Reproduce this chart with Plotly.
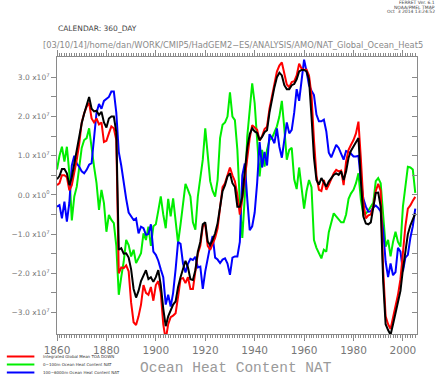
import numpy as np
import plotly.graph_objects as go

years = list(range(1860, 2006))

# values in units of 1e7
toa_down = [
    0.25,
    0.30, 0.50, 0.50, 0.45, 0.12, 0.25, 0.55, 0.90, 1.30, 1.85,
    2.08, 2.25, 2.35, 1.95, 1.85, 1.95, 1.80, 1.85, 1.35, 1.38,
    1.57, 1.75, 1.70, 1.40, -2.00, -1.85, -1.87, -1.80, -1.95, -2.75,
    -3.25, -3.32, -3.10, -2.80, -2.30, -2.50, -2.55, -2.35, -2.70, -2.30,
    -2.20, -2.50, -3.30, -3.70, -3.30, -3.12, -3.08, -3.02, -2.60, -2.15,
    -2.12, -2.25, -2.10, -2.40, -2.40, -1.95, -1.50, -1.30, -0.80, -0.75,
    -1.30, -1.40, -1.25, -1.10, -0.85, -0.35, 0.20, 0.30, 0.50, 0.70,
    0.50, 0.35, 0.00, -0.50, -0.10, 0.40, 1.00, 1.45, 1.78, 1.72,
    1.66, 1.38, 1.50, 1.68, 1.74, 2.20, 2.55, 2.85, 3.15, 3.30,
    3.38, 3.10, 2.82, 2.75, 2.88, 2.90, 3.05, 3.35, 3.22, 3.19,
    3.20, 3.05, 2.55, 1.40, 0.50, 0.13, 0.10, 0.38, 0.13, 0.26,
    0.43, 0.55, 0.64, 0.60, 0.62, 0.25, 0.85, 1.15, 1.28, 1.40,
    1.57, 1.87, 0.90, -0.20, -0.60, -0.52, -0.50, -0.30, 0.10, 0.28,
    0.10, -1.90, -3.10, -3.30, -3.42, -3.15, -2.88, -2.55, -2.15, -1.50,
    -0.80, -0.35, -0.27, -0.15, -0.05,
]

total = [
    0.40,
    0.48, 0.66, 0.66, 0.55, 0.25, 0.45, 0.80, 1.15, 1.50, 1.83,
    2.08, 2.30, 2.50, 2.20, 2.13, 2.15, 2.04, 2.12, 1.85, 1.72,
    1.95, 2.00, 2.00, 1.60, -1.40, -1.36, -1.50, -1.49, -1.60, -1.90,
    -2.40, -2.62, -2.45, -2.20, -2.08, -1.92, -2.15, -2.10, -2.22, -2.10,
    -1.92, -2.30, -2.90, -3.35, -3.10, -2.95, -2.80, -2.72, -2.35, -2.10,
    -1.90, -1.68, -1.85, -2.15, -2.17, -1.92, -1.45, -1.20, -0.75, -0.70,
    -1.19, -1.28, -1.15, -0.98, -0.72, -0.30, 0.10, 0.25, 0.47, 0.55,
    0.30, 0.20, -0.30, -0.30, -0.05, 0.60, 1.20, 1.55, 1.70, 1.62,
    1.58, 1.40, 1.48, 1.60, 1.65, 2.10, 2.45, 2.75, 3.00, 3.12,
    3.05, 2.80, 2.70, 2.70, 2.80, 2.83, 2.95, 3.15, 3.19, 3.19,
    3.15, 2.95, 2.00, 0.95, 0.38, 0.26, 0.43, 0.30, 0.21, 0.34,
    0.43, 0.51, 0.55, 0.51, 0.60, 0.38, 0.60, 0.95, 1.13, 1.23,
    1.32, 1.45, 0.35, -0.55, -0.73, -0.75, -0.70, -0.30, 0.05, 0.06,
    -0.30, -2.20, -3.30, -3.45, -3.57, -3.30, -3.03, -2.80, -2.45, -1.90,
    -1.40, -1.00, -0.78, -0.62, -0.47,
]

deep_100_6000 = [
    -0.30,
    -0.26, -0.60, -0.17, -0.68, -0.20, 0.75, 1.00, 0.80, 0.72, 0.60,
    0.55, 0.64, 0.77, 0.81, 1.45, 2.10, 2.32, 2.20, 2.40, 2.45,
    2.50, 2.64, 2.64, 2.10, 1.10, 0.75, 0.30, -0.10, -0.45, -0.55,
    -0.64, -0.60, -0.98, -0.81, -0.85, -1.02, -1.00, -0.75, -1.45, -1.53,
    -1.68, -1.90, -2.10, -2.80, -2.55, -2.85, -2.50, -1.90, -1.20, -1.25,
    -1.75, -1.98, -1.76, -1.63, -1.66, -1.58, -1.85, -1.83, -2.40, -1.95,
    -1.60, -1.30, -1.05, -1.60, -1.65, -1.74, -1.65, -1.62, -1.75, -2.04,
    -1.60, -1.57, -1.57, -1.20, 0.50, 0.80, -0.10, -0.90, -0.80, -0.45,
    0.30, 1.35, 0.70, 1.10, 0.75, 1.55, 1.45, 1.32, 1.70, 1.23,
    0.95, 1.40, 1.85, 1.57, 1.66, 2.10, 2.70, 2.40, 3.00, 3.45,
    3.15, 2.80, 2.66, 2.55, 2.05, 1.88, 1.88, 1.92, 1.62, 1.08,
    0.96, 1.10, 1.28, 1.20, 1.05, 0.90, 1.12, 1.10, 1.05, 0.98,
    0.98, 1.00, 0.35, -0.10, -0.30, -0.43, -0.42, -0.32, -0.27, -0.33,
    -0.42, -0.90, -1.70, -2.10, -1.75, -2.05, -1.97, -1.35, -1.45, -1.95,
    -1.60, -1.53, -1.10, -0.80, -0.35,
]

upper_0_100 = [
    0.65,
    1.00, 1.23, 0.85, 1.23, 0.55, -0.65, -0.04, 0.21, 0.72, 1.20,
    1.40, 1.45, 1.70, 1.15, 0.72, 0.30, -0.38, 0.13, -0.21, -0.94,
    -0.51, -0.64, -0.72, -1.30, -2.55, -2.10, -1.70, -1.15, -1.28, -1.57,
    -1.40, -1.74, -1.62, -1.49, -0.98, -1.15, -0.81, -1.30, -0.80, -0.75,
    -0.40, -0.04, -0.50, -0.85, -0.10, -0.55, -0.09, -0.75, -1.23, -0.75,
    -0.30, 0.28, 0.13, -0.04, -0.70, -0.89, -0.04, 0.40, 0.90, 1.70,
    1.00, 0.35, 0.10, -0.04, 0.38, 1.45, 1.79, 1.85, 2.00, 2.62,
    2.00, 1.91, 1.15, -0.20, -1.10, -0.04, 1.49, 2.20, 2.85, 2.34,
    1.40, 0.47, 1.15, 0.72, 1.15, 1.40, 1.45, 1.60, 1.75, 2.00,
    2.40, 1.70, 0.90, 1.15, 1.20, 0.40, 0.15, 0.70, 0.15, -0.35,
    0.10, 0.38, 0.20, -1.15, -1.35, -1.50, -1.62, -1.40, -1.45, -0.95,
    -0.70, -0.47, -0.55, -0.64, -0.70, -0.70, -0.50, -0.10, 0.04, 0.13,
    0.30, 0.55, -0.13, -0.50, -0.47, -0.40, -0.30, -0.20, 0.35, 0.43,
    0.30, -0.55, -1.32, -1.15, -1.57, -1.20, -0.94, -1.20, -1.32, -0.30,
    0.30, 0.72, 0.70, 0.65, 0.05,
]

ytick_vals = [-3.0, -2.5, -2.0, -1.5, -1.0, -0.5, 0.0, 0.5, 1.0, 1.5, 2.0, 2.5, 3.0]
ytick_text = ["\u22123.0 x10<sup>7</sup>", " ", "\u22122.0 x10<sup>7</sup>", " ",
              "\u22121.0 x10<sup>7</sup>", " ", "0.0 x10<sup>0</sup>", " ",
              "1.0 x10<sup>7</sup>", " ", "2.0 x10<sup>7</sup>", " ", "3.0 x10<sup>7</sup>"]
legend_labels = ["Integrated Global Mean TOA DOWN",
                 "0\u2212100m Ocean Heat Content NAT",
                 "100\u22126000m Ocean Heat Content NAT"]

SCALE = 1e7
yt = [v * SCALE for v in ytick_vals]
yrange = [-3.55 * SCALE, 3.52 * SCALE]

W, H = 440, 375
L, R, T, B = 51, 23, 57, 41
PW, PH = W - L - R, H - T - B


def px(x):
    return (x - L) / PW


def py(y):
    return (H - B - y) / PH


AX = "#8a8a8a"
fig = go.Figure()
fig.add_trace(go.Scatter(x=years, y=np.array(upper_0_100) * SCALE, mode="lines",
                         line=dict(color="#00ee00", width=2), name=legend_labels[1]))
fig.add_trace(go.Scatter(x=years, y=np.array(deep_100_6000) * SCALE, mode="lines",
                         line=dict(color="#0000ff", width=2), name=legend_labels[2]))
fig.add_trace(go.Scatter(x=years, y=np.array(toa_down) * SCALE, mode="lines",
                         line=dict(color="#ff0000", width=2), name=legend_labels[0]))
fig.add_trace(go.Scatter(x=years, y=np.array(total) * SCALE, mode="lines",
                         line=dict(color="#000000", width=2), name="total", yaxis="y2"))

fig.update_layout(
    width=W, height=H, margin=dict(l=L, r=R, t=T, b=B),
    paper_bgcolor="white", plot_bgcolor="white", showlegend=False,
    font=dict(family="DejaVu Sans", color="#777"),
    xaxis=dict(range=[1860.0, 2005.7], tick0=1860, dtick=20, ticks="outside",
               ticklen=6, tickcolor=AX, showline=True, linecolor=AX, linewidth=1,
               mirror="ticks", showgrid=False, zeroline=False,
               tickfont=dict(size=10.5, color="#777"),
               minor=dict(dtick=1, ticklen=3, ticks="outside", tickcolor=AX, showgrid=False)),
    yaxis=dict(range=yrange, tickvals=yt, ticktext=ytick_text, ticks="outside",
               ticklen=5, tickcolor=AX, showline=True, linecolor=AX, linewidth=1,
               showgrid=False, zeroline=False, tickfont=dict(size=7.5, color="#777")),
    yaxis2=dict(range=yrange, overlaying="y", side="right", tickvals=yt,
                ticks="inside", ticklen=5, tickcolor=AX, showline=True, linecolor=AX,
                linewidth=1, showticklabels=False, showgrid=False, zeroline=False),
)

ann = []
for i, s in enumerate(["FERRET Ver. 6.1", "NOAA/PMEL TMAP", "Oct  3 2014 13:24:52"]):
    ann.append(dict(x=px(437), y=py(3 + 4 * i), text=s, showarrow=False, xref="paper", yref="paper",
                    xanchor="right", yanchor="middle", font=dict(size=4.5, color="#444")))
ann.append(dict(x=px(50), y=py(28), text="CALENDAR: 360_DAY", showarrow=False, xref="paper",
                yref="paper", xanchor="left", yanchor="middle",
                font=dict(size=7.5, color="#444")))
ann.append(dict(x=px(230), y=py(45),
                text="[03/10/14]/home/dan/WORK/CMIP5/HadGEM2\u2212ES/ANALYSIS/AMO/NAT_Global_Ocean_Heat5",
                showarrow=False, xref="paper", yref="paper", xanchor="center", yanchor="middle",
                font=dict(size=8.3, color="#8a8a8a")))
ann.append(dict(x=px(233), y=py(368), text="Ocean Heat Content NAT", showarrow=False,
                xref="paper", yref="paper", xanchor="center", yanchor="middle",
                font=dict(family="Liberation Mono", size=14.5, color="#9a9a9a")))

shapes = []
leg_colors = ["#ff0000", "#00ee00", "#0000ff"]
for i, (lab, c) in enumerate(zip(legend_labels, leg_colors)):
    yy = 356.5 + 8 * i
    shapes.append(dict(type="line", xref="paper", yref="paper", x0=px(0), x1=px(28),
                       y0=py(yy), y1=py(yy), line=dict(color=c, width=2)))
    ann.append(dict(x=px(35), y=py(yy), text=lab, showarrow=False, xref="paper", yref="paper",
                    xanchor="left", yanchor="middle", font=dict(size=4, color="#333")))

fig.update_layout(annotations=ann, shapes=shapes)
fig.write_html("out.html", config={"displayModeBar": False},
               post_script="document.body.style.margin='0';document.body.style.padding='0';")
